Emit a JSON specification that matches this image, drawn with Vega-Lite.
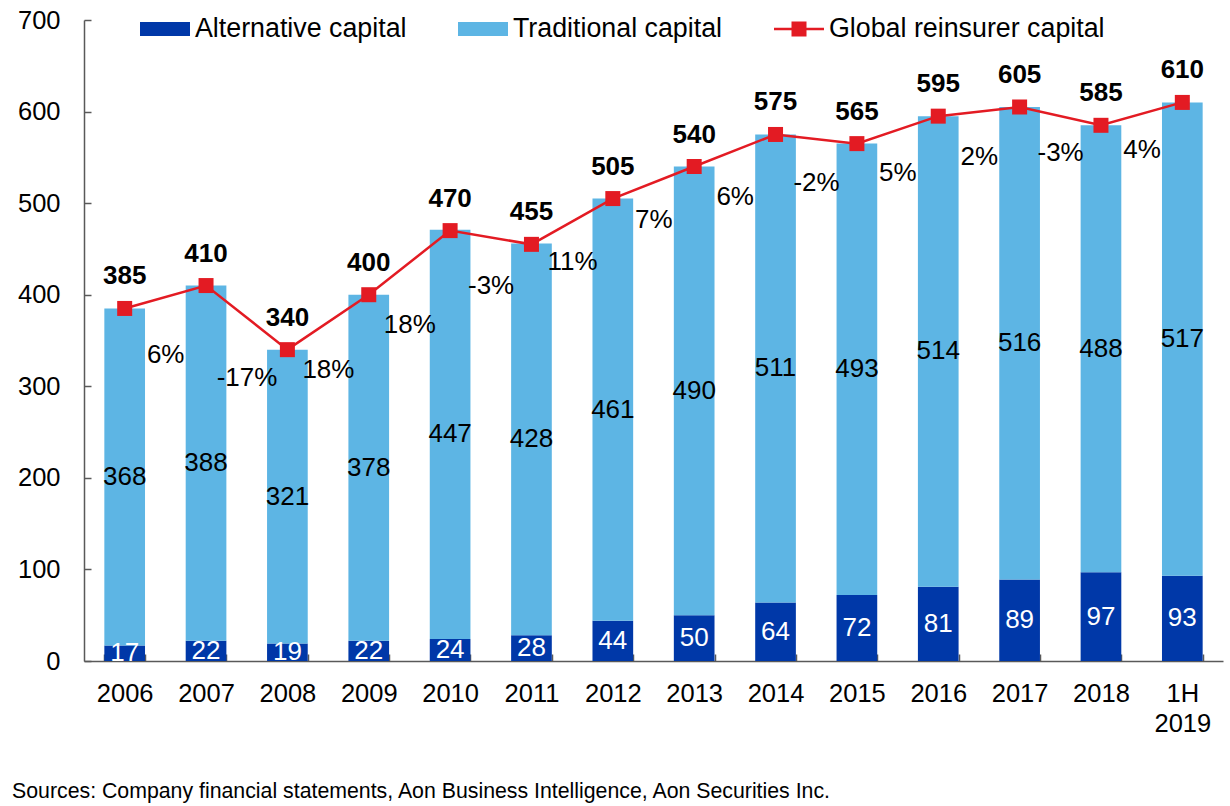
{
  "$schema": "https://vega.github.io/schema/vega-lite/v6.json",
  "width": 1139,
  "height": 641,
  "autosize": {"type": "none"},
  "padding": {"left": 84, "top": 20, "right": 7, "bottom": 145},
  "background": "white",
  "title": {
    "text": "Sources: Company financial statements, Aon Business Intelligence, Aon Securities Inc.",
    "orient": "bottom",
    "anchor": "start",
    "frame": "group",
    "dx": -72,
    "offset": 44,
    "fontSize": 21.3,
    "fontWeight": "normal",
    "color": "black"
  },
  "datasets": {
    "segments": [
      {"year": "2006", "series": "Alternative capital", "value": 17},
      {"year": "2006", "series": "Traditional capital", "value": 368},
      {"year": "2007", "series": "Alternative capital", "value": 22},
      {"year": "2007", "series": "Traditional capital", "value": 388},
      {"year": "2008", "series": "Alternative capital", "value": 19},
      {"year": "2008", "series": "Traditional capital", "value": 321},
      {"year": "2009", "series": "Alternative capital", "value": 22},
      {"year": "2009", "series": "Traditional capital", "value": 378},
      {"year": "2010", "series": "Alternative capital", "value": 24},
      {"year": "2010", "series": "Traditional capital", "value": 447},
      {"year": "2011", "series": "Alternative capital", "value": 28},
      {"year": "2011", "series": "Traditional capital", "value": 428},
      {"year": "2012", "series": "Alternative capital", "value": 44},
      {"year": "2012", "series": "Traditional capital", "value": 461},
      {"year": "2013", "series": "Alternative capital", "value": 50},
      {"year": "2013", "series": "Traditional capital", "value": 490},
      {"year": "2014", "series": "Alternative capital", "value": 64},
      {"year": "2014", "series": "Traditional capital", "value": 511},
      {"year": "2015", "series": "Alternative capital", "value": 72},
      {"year": "2015", "series": "Traditional capital", "value": 493},
      {"year": "2016", "series": "Alternative capital", "value": 81},
      {"year": "2016", "series": "Traditional capital", "value": 514},
      {"year": "2017", "series": "Alternative capital", "value": 89},
      {"year": "2017", "series": "Traditional capital", "value": 516},
      {"year": "2018", "series": "Alternative capital", "value": 97},
      {"year": "2018", "series": "Traditional capital", "value": 488},
      {"year": "1H 2019", "series": "Alternative capital", "value": 93},
      {"year": "1H 2019", "series": "Traditional capital", "value": 517}
    ],
    "totals": [
      {"year": "2006", "total": 385},
      {"year": "2007", "total": 410},
      {"year": "2008", "total": 340},
      {"year": "2009", "total": 400},
      {"year": "2010", "total": 470},
      {"year": "2011", "total": 455},
      {"year": "2012", "total": 505},
      {"year": "2013", "total": 540},
      {"year": "2014", "total": 575},
      {"year": "2015", "total": 565},
      {"year": "2016", "total": 595},
      {"year": "2017", "total": 605},
      {"year": "2018", "total": 585},
      {"year": "1H 2019", "total": 610}
    ],
    "growth": [
      {"year": "2006", "growth": "6%", "level": 334},
      {"year": "2007", "growth": "-17%", "level": 309},
      {"year": "2008", "growth": "18%", "level": 318},
      {"year": "2009", "growth": "18%", "level": 367},
      {"year": "2010", "growth": "-3%", "level": 410},
      {"year": "2011", "growth": "11%", "level": 436},
      {"year": "2012", "growth": "7%", "level": 482},
      {"year": "2013", "growth": "6%", "level": 507},
      {"year": "2014", "growth": "-2%", "level": 522},
      {"year": "2015", "growth": "5%", "level": 533},
      {"year": "2016", "growth": "2%", "level": 550},
      {"year": "2017", "growth": "-3%", "level": 555},
      {"year": "2018", "growth": "4%", "level": 558}
    ]
  },
  "encoding": {
    "x": {
      "field": "year",
      "type": "nominal",
      "sort": null,
      "scale": {
        "domain": ["2006", "2007", "2008", "2009", "2010", "2011", "2012", "2013", "2014", "2015", "2016", "2017", "2018", "1H 2019"],
        "paddingInner": 0.5,
        "paddingOuter": 0.25
      },
      "axis": {
        "title": null,
        "labelAngle": 0,
        "labelFontSize": 25.5,
        "labelColor": "black",
        "labelBaseline": "top",
        "labelPadding": 27,
        "labelExpr": "split(datum.label, ' ')",
        "labelLineHeight": 30,
        "tickBand": "extent",
        "tickSize": -7,
        "tickWidth": 1.5,
        "tickColor": "#595959",
        "domainColor": "#595959",
        "domainWidth": 1.5
      }
    }
  },
  "layer": [
    {
      "data": {"name": "segments"},
      "mark": {"type": "bar"},
      "encoding": {
        "y": {
          "field": "value",
          "type": "quantitative",
          "stack": "zero",
          "scale": {"domain": [0, 700], "nice": false},
          "axis": {
            "title": null,
            "values": [0, 100, 200, 300, 400, 500, 600, 700],
            "grid": false,
            "labelFontSize": 25.5,
            "labelColor": "black",
            "labelPadding": 31,
            "tickSize": -7,
            "tickWidth": 1.5,
            "tickColor": "#595959",
            "domainColor": "#595959",
            "domainWidth": 1.5
          }
        },
        "order": {"field": "series"},
        "color": {
          "field": "series",
          "type": "nominal",
          "scale": {
            "domain": ["Alternative capital", "Traditional capital", "Global reinsurer capital"],
            "range": ["#0038A8", "#5DB5E4", "#E31B23"]
          },
          "legend": {
            "orient": "none",
            "legendX": 56,
            "legendY": -16,
            "direction": "horizontal",
            "title": null,
            "symbolSize": 2500,
            "symbolType": "M-1,-0.28H1V0.28H-1Z",
            "symbolStrokeWidth": 0,
            "labelFontSize": 26.8,
            "labelColor": "black",
            "labelLimit": 400,
            "labelOffset": 5,
            "columnPadding": 51,
            "encode": {
              "symbols": {
                "update": {
                  "shape": {"signal": "datum.value === 'Global reinsurer capital' ? 'M-1,-0.05H1V0.05H-1Z M-0.3,-0.3H0.3V0.3H-0.3Z' : 'M-1,-0.28H1V0.28H-1Z'"},
                  "fill": {"scale": "color", "field": "value"},
                  "opacity": {"value": 1}
                }
              }
            }
          }
        }
      }
    },
    {
      "data": {"name": "segments"},
      "mark": {"type": "text", "fontSize": 26},
      "encoding": {
        "y": {"field": "value", "type": "quantitative", "stack": "zero", "bandPosition": 0.5},
        "detail": {"field": "series"},
        "order": {"field": "series"},
        "text": {"field": "value", "type": "quantitative"},
        "color": {
          "condition": {"test": "datum.series === 'Alternative capital'", "value": "white"},
          "value": "black"
        }
      }
    },
    {
      "data": {"name": "totals"},
      "mark": {
        "type": "line",
        "strokeWidth": 2.5,
        "point": {"shape": "square", "size": 225, "filled": true, "opacity": 1}
      },
      "encoding": {
        "y": {"field": "total", "type": "quantitative"},
        "color": {"datum": "Global reinsurer capital"}
      }
    },
    {
      "data": {"name": "totals"},
      "mark": {"type": "text", "fontSize": 26, "fontWeight": "bold", "dy": -32, "color": "black"},
      "encoding": {
        "y": {"field": "total", "type": "quantitative"},
        "text": {"field": "total", "type": "quantitative"}
      }
    },
    {
      "data": {"name": "growth"},
      "mark": {"type": "text", "fontSize": 26, "dx": 41, "color": "black"},
      "encoding": {
        "y": {"field": "level", "type": "quantitative"},
        "text": {"field": "growth", "type": "nominal"}
      }
    }
  ],
  "config": {
    "font": "Liberation Sans",
    "view": {"stroke": null},
    "axis": {"labelFont": "Liberation Sans"},
    "legend": {"labelFont": "Liberation Sans"}
  }
}
